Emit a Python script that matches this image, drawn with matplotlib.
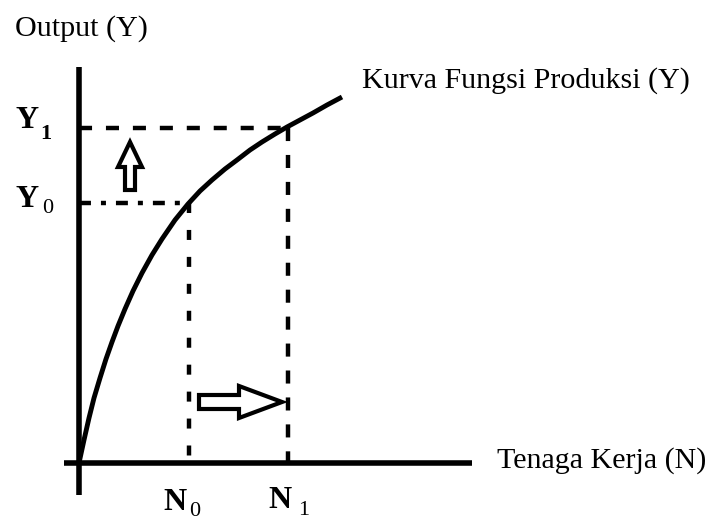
import matplotlib
matplotlib.use("Agg")
import matplotlib.pyplot as plt
from matplotlib.patches import FancyArrow

plt.rcParams['font.family'] = ['Liberation Serif', 'DejaVu Serif']
plt.rcParams['lines.scale_dashes'] = False

#----------------------- data -----------------------#
# kurva fungsi produksi (N = tenaga kerja, Y = output)
N_curve = [0, 5, 10, 15, 21, 27, 33, 39, 46, 54, 63, 73, 83, 96, 109,
           121, 133, 146, 158, 171, 183, 196, 208, 221, 234, 248, 263]
Y_curve = [0, 23, 45, 65, 85, 104, 121, 137, 154, 172, 190, 208, 224, 243, 259,
           272, 283, 294, 303, 313, 321, 329, 336, 343, 350, 358, 366]

N0, N1 = 110, 209
Y0, Y1 = 260, 335

title_y = "Output (Y)"
title_x = "Tenaga Kerja (N)"
curve_label = "Kurva Fungsi Produksi (Y)"

#----------------------- figure -----------------------#
fig = plt.figure(figsize=(7.16, 5.21), dpi=100)
ax = fig.add_axes([0, 0, 1, 1])
ax.set_xlim(-79, 637)
ax.set_ylim(-58, 463)
ax.axis('off')

# sumbu
ax.plot([0, 0], [-32, 396], color='black', lw=4, solid_capstyle='butt')
ax.plot([-15, 393], [0, 0], color='black', lw=4, solid_capstyle='butt')

# kurva
ax.plot(N_curve, Y_curve, color='black', lw=3.5, solid_capstyle='butt', solid_joinstyle='round')

# garis putus-putus
ax.plot([0, N1], [Y1, Y1], color='black', lw=3.2, dashes=(9.4, 10), dash_capstyle='butt')
ax.plot([N1, N1], [Y1, 0], color='black', lw=3.2, dashes=(9.4, 10), dash_capstyle='butt')
ax.plot([0, N0], [Y0, Y0], color='black', lw=3.2, dashes=(8.6, 7.2, 3.6, 7.2), dash_capstyle='butt')
ax.plot([N0, N0], [Y0, 0], color='black', lw=3.2, dashes=(7.2, 12.2), dash_capstyle='butt')

# panah
up = FancyArrow(51, 273, 0, 48, width=10, head_width=24, head_length=25,
                length_includes_head=True, fc='white', ec='black', lw=3, joinstyle='miter')
right = FancyArrow(N0 + 10, 61, N1 - N0 - 16, 0, width=14, head_width=32, head_length=43,
                   length_includes_head=True, fc='white', ec='black', lw=3, joinstyle='miter')
ax.add_patch(up)
ax.add_patch(right)

# teks
fs = 21.6
ax.text(-64, 427, title_y, fontsize=fs, va='baseline', ha='left')
ax.text(283, 375, curve_label, fontsize=fs, va='baseline', ha='left')
ax.text(418, -5, title_x, fontsize=fs, va='baseline', ha='left')

fb = 23
ax.text(-63, Y1, "Y", fontsize=fb, fontweight='bold', va='baseline', ha='left')
ax.text(-39, Y1 - 11, "1", fontsize=16, fontweight='bold', va='baseline', ha='left')
ax.text(-63, Y0 - 4, "Y", fontsize=fb, fontweight='bold', va='baseline', ha='left')
ax.text(-37, Y0 - 10, "0", fontsize=16, va='baseline', ha='left')
ax.text(84, -47, "N", fontsize=fb, fontweight='bold', va='baseline', ha='left')
ax.text(110, -53, "0", fontsize=16, va='baseline', ha='left')
ax.text(189, -45, "N", fontsize=fb, fontweight='bold', va='baseline', ha='left')
ax.text(219, -52, "1", fontsize=16, va='baseline', ha='left')

fig.savefig("out.png", dpi=100)
